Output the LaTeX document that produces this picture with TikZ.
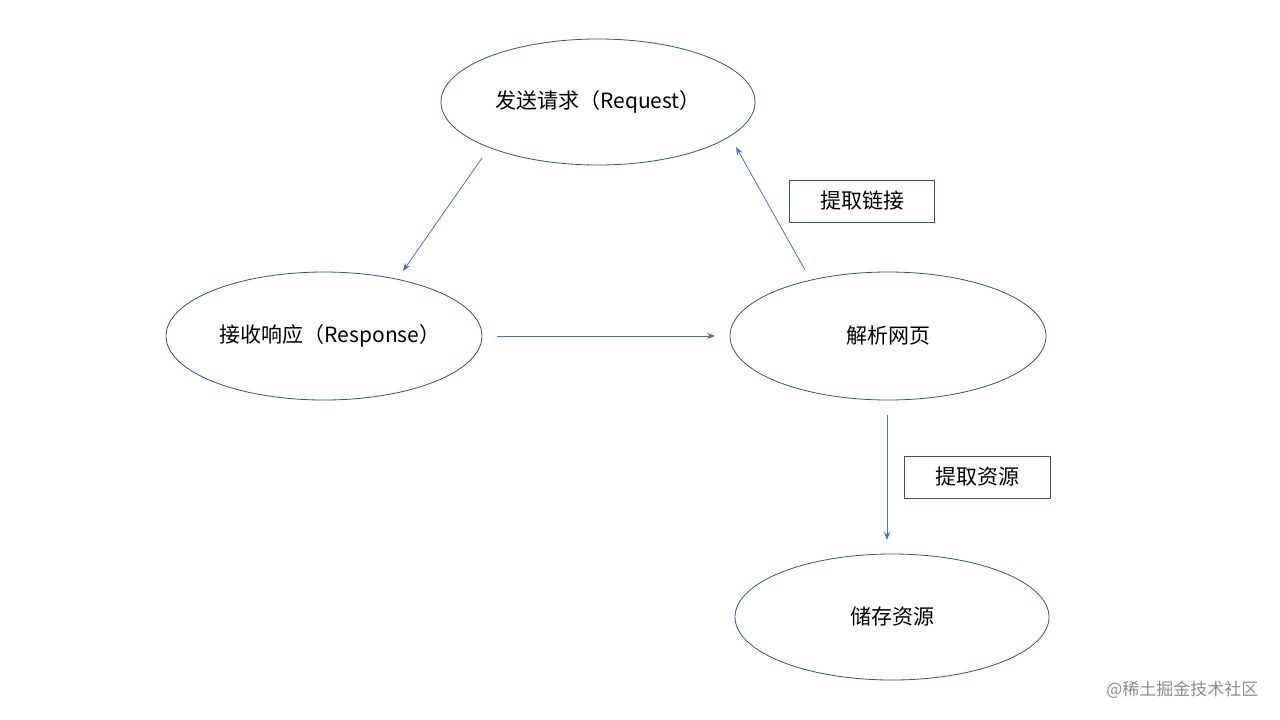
\documentclass[tikz,border=0pt]{standalone}
\usepackage{fontspec}
\setmainfont{Noto Sans CJK SC}
\usetikzlibrary{arrows.meta}
\definecolor{elc}{HTML}{2F4F8F}
\definecolor{arc}{HTML}{4472C4}
\begin{document}
\begin{tikzpicture}[x=1pt,y=-1pt,
  el/.style={draw=elc,line width=0.8pt,ellipse,minimum width=#1},
  lab/.style={draw=elc,line width=0.7pt,font=\fontsize{21}{25}\selectfont},
  conn/.style={draw=arc,line width=0.8pt,-{Stealth[length=8pt,width=6pt]}}]
\useasboundingbox (0,0) rectangle (1280,720);
\draw[elc,line width=0.8pt] (598,102) ellipse [x radius=157,y radius=63];
\node[font=\fontsize{21}{25}\selectfont] (req) at (598,102) {发送请求（Request）};
\draw[elc,line width=0.8pt] (324,336) ellipse [x radius=158,y radius=64];
\node[font=\fontsize{21}{25}\selectfont] (resp) at (330,336) {接收响应（Response）};
\draw[elc,line width=0.8pt] (888,336) ellipse [x radius=158,y radius=64];
\node[font=\fontsize{21}{25}\selectfont] (parse) at (888,336) {解析网页};
\draw[elc,line width=0.8pt] (892,617) ellipse [x radius=157,y radius=63];
\node[font=\fontsize{21}{25}\selectfont] (store) at (892,617) {储存资源};
\node[draw=elc,line width=0.7pt,font=\fontsize{21}{25}\selectfont,minimum width=145pt,minimum height=42pt,inner sep=0pt] (l1) at (862,201) {提取链接};
\node[draw=elc,line width=0.7pt,font=\fontsize{21}{25}\selectfont,minimum width=146pt,minimum height=42pt,inner sep=0pt] (l2) at (977,477) {提取资源};
\coordinate (a1) at (482,158); \coordinate (b1) at (403,271);
\coordinate (a2) at (497,336); \coordinate (b2) at (715,336);
\coordinate (a3) at (805,270); \coordinate (b3) at (736,147);
\coordinate (a4) at (887,415); \coordinate (b4) at (887,540);
\draw[conn] (a1) -- (b1);
\draw[conn] (a2) -- (b2);
\draw[conn] (a3) -- (b3);
\draw[conn] (a4) -- (b4);
\node[anchor=east,text=black!45,font=\fontsize{17}{20}\selectfont] (wm) at (1262,690) {@稀土掘金技术社区};
\end{tikzpicture}
\end{document}
